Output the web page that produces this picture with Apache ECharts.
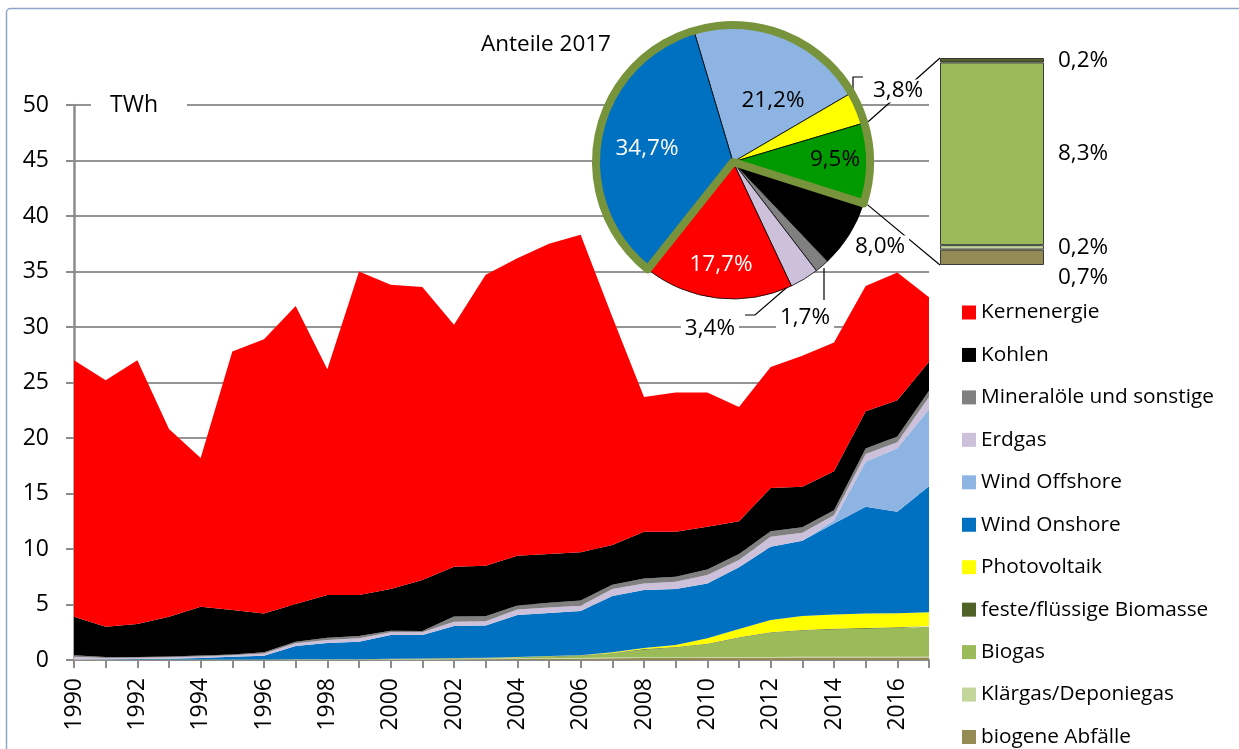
<!DOCTYPE html>
<html>
<head>
<meta charset="utf-8">
<script src="https://cdn.jsdelivr.net/npm/echarts@6/dist/echarts.min.js"></script>
<style>
  html, body { margin: 0; padding: 0; background: #fff; }
  #chart { width: 1239px; height: 749px; }
</style>
</head>
<body>
<div id="chart"></div>
<script>
const years = ['1990', '1991', '1992', '1993', '1994', '1995', '1996', '1997', '1998', '1999',
  '2000', '2001', '2002', '2003', '2004', '2005', '2006', '2007', '2008', '2009',
  '2010', '2011', '2012', '2013', '2014', '2015', '2016', '2017'];

// TWh per year, stacked bottom to top
const abfaelle = [0, 0, 0, 0, 0, 0, 0, 0, 0, 0, 0.02, 0.03, 0.05, 0.06, 0.08, 0.10, 0.12, 0.15, 0.17, 0.18, 0.20, 0.20, 0.21, 0.22, 0.22, 0.23, 0.23, 0.23];
const klaergas = [0.04, 0.04, 0.04, 0.05, 0.05, 0.05, 0.05, 0.06, 0.06, 0.06, 0.06, 0.07, 0.07, 0.07, 0.07, 0.07, 0.07, 0.07, 0.07, 0.07, 0.07, 0.07, 0.07, 0.07, 0.07, 0.07, 0.07, 0.065];
const biogas = [0, 0, 0, 0, 0, 0, 0, 0, 0, 0.01, 0.02, 0.02, 0.03, 0.05, 0.07, 0.13, 0.17, 0.38, 0.69, 0.87, 1.15, 1.73, 2.17, 2.36, 2.46, 2.52, 2.58, 2.71];
const festeBiomasse = [0, 0, 0, 0, 0, 0, 0, 0, 0, 0, 0.01, 0.01, 0.02, 0.02, 0.03, 0.03, 0.04, 0.04, 0.05, 0.05, 0.05, 0.05, 0.06, 0.06, 0.06, 0.06, 0.065, 0.065];
const photovoltaik = [0, 0, 0, 0, 0, 0, 0, 0, 0, 0, 0, 0, 0, 0, 0.01, 0.02, 0.03, 0.06, 0.10, 0.18, 0.48, 0.75, 1.09, 1.25, 1.30, 1.32, 1.27, 1.24];
const windOnshore = [0.01, 0.02, 0.04, 0.07, 0.13, 0.25, 0.33, 1.20, 1.47, 1.58, 2.14, 2.12, 2.89, 2.90, 3.79, 3.88, 3.98, 5.07, 5.22, 5.05, 4.95, 5.55, 6.60, 6.79, 8.19, 9.60, 9.15, 11.35];
const windOffshore = [0, 0, 0, 0, 0, 0, 0, 0, 0, 0, 0, 0, 0, 0, 0, 0, 0, 0, 0, 0, 0, 0, 0, 0, 0.30, 4.06, 5.71, 6.93];
const erdgas = [0.24, 0.13, 0.12, 0.12, 0.14, 0.12, 0.20, 0.24, 0.27, 0.30, 0.25, 0.24, 0.39, 0.40, 0.51, 0.51, 0.48, 0.63, 0.60, 0.66, 0.75, 0.66, 0.90, 0.72, 0.45, 0.69, 0.54, 1.11];
const mineraloele = [0.13, 0.08, 0.08, 0.07, 0.08, 0.08, 0.12, 0.15, 0.20, 0.21, 0.14, 0.12, 0.48, 0.45, 0.36, 0.42, 0.48, 0.39, 0.45, 0.45, 0.51, 0.54, 0.51, 0.48, 0.45, 0.51, 0.51, 0.56];
const kohlen = [3.48, 2.73, 2.97, 3.59, 4.40, 4.00, 3.50, 3.40, 3.85, 3.69, 3.76, 4.59, 4.47, 4.55, 4.48, 4.39, 4.33, 3.57, 4.20, 4.04, 3.84, 2.95, 3.89, 3.65, 3.50, 3.34, 3.28, 2.62];
const kernenergie = [23.1, 22.2, 23.75, 16.9, 13.4, 23.3, 24.7, 26.85, 20.35, 29.15, 27.4, 26.4, 21.8, 26.2, 26.8, 27.95, 28.6, 20.54, 12.15, 12.55, 12.1, 10.3, 10.9, 11.8, 11.6, 11.3, 11.5, 5.79];

// shares 2017 in %, clockwise from the start of the pie
const pieNames = ['Wind Offshore', 'Photovoltaik', 'Biomasse', 'Kohlen', 'Mineralöle und sonstige', 'Erdgas', 'Kernenergie', 'Wind Onshore'];
const pieShares = [21.2, 3.8, 9.5, 8.0, 1.7, 3.4, 17.7, 34.7];

// breakdown of the Biomasse slice, bottom to top
const barNames = ['biogene Abfälle', 'Klärgas/Deponiegas', 'Biogas', 'feste/flüssige Biomasse'];
const barShares = [0.7, 0.2, 8.3, 0.2];

const FONT = '"Open Sans", sans-serif';
const AXIS_GRAY = '#8C8C8C';

const COLORS = {
  'Kernenergie': '#FF0000',
  'Kohlen': '#000000',
  'Mineralöle und sonstige': '#808080',
  'Erdgas': '#CCC0DA',
  'Wind Offshore': '#8DB4E2',
  'Wind Onshore': '#0070C0',
  'Photovoltaik': '#FFFF00',
  'feste/flüssige Biomasse': '#4F6228',
  'Biogas': '#9BBB59',
  'Klärgas/Deponiegas': '#C3D69B',
  'biogene Abfälle': '#948A54',
  'Biomasse': '#009A00'
};

// stacking order, bottom first
const areaList = [
  ['biogene Abfälle', abfaelle],
  ['Klärgas/Deponiegas', klaergas],
  ['Biogas', biogas],
  ['feste/flüssige Biomasse', festeBiomasse],
  ['Photovoltaik', photovoltaik],
  ['Wind Onshore', windOnshore],
  ['Wind Offshore', windOffshore],
  ['Erdgas', erdgas],
  ['Mineralöle und sonstige', mineraloele],
  ['Kohlen', kohlen],
  ['Kernenergie', kernenergie]
];
const legendNames = areaList.map(a => a[0]).reverse();

// pie geometry
const PIE_CX = 733, PIE_CY = 162, PIE_R = 137;
const PIE_START = 106.6;
const OUTLINE_W = 8;

// where Excel put the pie labels, relative to the pie centre
const pieLabelSpots = {
  'Wind Onshore': { x: -86, y: -13, align: 'center' },
  'Wind Offshore': { x: 40, y: -61, align: 'center' },
  'Biomasse': { x: 102, y: -2, align: 'center' },
  'Kernenergie': { x: -12, y: 103, align: 'center' },
  'Photovoltaik': { x: 136, y: -71, align: 'left', line: [[120, -65], [120, -85], [130, -85]] },
  'Kohlen': { x: 118, y: 85, align: 'left' },
  'Mineralöle und sonstige': { x: 72, y: 156, align: 'center', line: [[91, 106], [91, 122], [91, 138]] },
  'Erdgas': { x: 6, y: 167, align: 'right', line: [[59, 121], [22, 153], [12, 153]] }
};
const insideLabels = { 'Wind Onshore': '#fff', 'Kernenergie': '#fff', 'Wind Offshore': '#000', 'Biomasse': '#000' };

// bar of the pie-of-bar
const BAR = { left: 940, top: 58, width: 104, height: 207 };

const fmtPct = v => v.toFixed(1).replace('.', ',') + '%';

const chart = echarts.init(document.getElementById('chart'), null, { renderer: 'canvas' });

const areaSeries = areaList.map(([name, data]) => ({
  name,
  type: 'line',
  stack: 'total',
  data,
  symbol: 'none',
  showSymbol: false,
  lineStyle: { width: 0 },
  itemStyle: { color: COLORS[name] },
  areaStyle: { color: COLORS[name], opacity: 1 },
  z: 2
}));

const pieData = pieNames.map((name, i) => {
  const inside = insideLabels[name];
  const item = {
    name,
    value: pieShares[i],
    itemStyle: { color: COLORS[name] }
  };
  if (inside) {
    item.label = { position: 'inside', color: inside };
  } else {
    item.label = { position: 'outside', backgroundColor: '#fff', padding: [0, 4] };
    if (!pieLabelSpots[name].line) item.labelLine = { show: false };
  }
  return item;
});

// olive outline round Wind Onshore + Wind Offshore + Photovoltaik + Biomasse
const outlined = ['Wind Onshore', 'Wind Offshore', 'Photovoltaik', 'Biomasse'];
const groupShare = pieNames.reduce((s, n, i) => s + (outlined.includes(n) ? pieShares[i] : 0), 0);
const totalShare = pieShares.reduce((s, v) => s + v, 0);
const onshoreShare = pieShares[pieNames.indexOf('Wind Onshore')];

const pieSeries = {
  name: 'Anteile 2017',
  type: 'pie',
  center: [PIE_CX, PIE_CY],
  radius: PIE_R,
  startAngle: PIE_START,
  clockwise: true,
  avoidLabelOverlap: false,
  z: 4,
  emphasis: { scale: false },
  itemStyle: { borderColor: '#000', borderWidth: 0.8 },
  label: {
    show: true,
    fontFamily: FONT,
    fontSize: 22.5,
    color: '#000',
    formatter: p => fmtPct(p.value)
  },
  labelLine: { show: true, lineStyle: { color: '#000', width: 1.2 } },
  labelLayout: function (p) {
    const spot = pieLabelSpots[pieNames[p.dataIndex]];
    const out = {
      x: PIE_CX + spot.x,
      y: PIE_CY + spot.y,
      align: spot.align,
      verticalAlign: 'middle'
    };
    if (spot.line) out.labelLinePoints = spot.line.map(q => [PIE_CX + q[0], PIE_CY + q[1]]);
    return out;
  },
  data: pieData
};

const outlineSeries = {
  type: 'pie',
  center: [PIE_CX, PIE_CY],
  radius: PIE_R,
  startAngle: PIE_START + onshoreShare * 3.6,
  clockwise: true,
  silent: true,
  z: 5,
  label: { show: false },
  labelLine: { show: false },
  emphasis: { scale: false },
  data: [
    { value: groupShare, itemStyle: { color: 'rgba(0,0,0,0)', borderColor: '#77933C', borderWidth: OUTLINE_W } },
    { value: totalShare - groupShare, itemStyle: { color: 'rgba(0,0,0,0)', borderWidth: 0 } }
  ]
};

const barTotal = barShares.reduce((s, v) => s + v, 0);
const barSeries = barNames.map((name, i) => ({
  name,
  type: 'bar',
  xAxisIndex: 1,
  yAxisIndex: 1,
  stack: 'bio',
  barWidth: '100%',
  data: [barShares[i]],
  z: 4,
  itemStyle: { color: COLORS[name], borderColor: '#3A3A3A', borderWidth: 1 },
  label: {
    show: true,
    position: 'right',
    distance: 14,
    offset: name === 'biogene Abfälle' ? [0, 20] : [0, 0],
    fontFamily: FONT,
    fontSize: 22.5,
    color: '#000',
    formatter: p => fmtPct(p.value)
  }
}));

// connector lines from the Biomasse slice to the bar
const bioIdx = pieNames.indexOf('Biomasse');
const before = pieShares.slice(0, bioIdx).reduce((s, v) => s + v, 0);
const a1 = (PIE_START - before * 3.6) * Math.PI / 180;
const a2 = (PIE_START - (before + pieShares[bioIdx]) * 3.6) * Math.PI / 180;
const rEdge = PIE_R + OUTLINE_W / 2;
const p1 = [PIE_CX + rEdge * Math.cos(a1), PIE_CY - rEdge * Math.sin(a1)];
const p2 = [PIE_CX + rEdge * Math.cos(a2), PIE_CY - rEdge * Math.sin(a2)];

const option = {
  animation: false,
  backgroundColor: '#fff',
  textStyle: { fontFamily: FONT },
  title: {
    text: 'Anteile 2017',
    left: 481,
    top: 33,
    padding: 0,
    textStyle: { fontFamily: FONT, fontSize: 22.5, fontWeight: 'normal', color: '#000' }
  },
  legend: {
    data: legendNames,
    orient: 'vertical',
    left: 962,
    top: 302,
    icon: 'rect',
    itemWidth: 14,
    itemHeight: 14,
    itemGap: 21.45,
    padding: 0,
    textStyle: { fontFamily: FONT, fontSize: 20.8, color: '#000' }
  },
  grid: [
    { left: 74, right: 310, top: 105, bottom: 89 },
    { left: BAR.left, top: BAR.top, width: BAR.width, height: BAR.height }
  ],
  xAxis: [
    {
      type: 'category',
      data: years,
      boundaryGap: false,
      axisLine: { lineStyle: { color: AXIS_GRAY, width: 2 } },
      axisTick: { show: true, interval: 0, length: 8, lineStyle: { color: AXIS_GRAY, width: 2 } },
      axisLabel: { interval: 1, rotate: 90, margin: 18, fontFamily: FONT, fontSize: 23, color: '#000' },
      splitLine: { show: false }
    },
    { gridIndex: 1, type: 'category', data: ['Biomasse'], show: false }
  ],
  yAxis: [
    {
      type: 'value',
      min: 0,
      max: 50,
      interval: 5,
      name: '{g| }{t|TWh}',
      nameLocation: 'end',
      nameGap: 0,
      nameTextStyle: {
        align: 'left',
        verticalAlign: 'middle',
        rich: {
          g: { width: 17 },
          t: { backgroundColor: '#fff', padding: [4, 29, 4, 19], fontFamily: FONT, fontSize: 23, color: '#000' }
        }
      },
      axisLine: { show: true, lineStyle: { color: AXIS_GRAY, width: 2.5 } },
      axisTick: { show: true, length: 8, lineStyle: { color: AXIS_GRAY, width: 2 } },
      axisLabel: { margin: 25, fontFamily: FONT, fontSize: 23, color: '#000' },
      splitLine: { show: true, lineStyle: { color: '#949494', width: 2 } }
    },
    { gridIndex: 1, type: 'value', min: 0, max: barTotal, show: false }
  ],
  graphic: [
    {
      type: 'rect',
      z: 0,
      silent: true,
      shape: { x: 6.5, y: 8.5, width: 1300, height: 800, r: 4 },
      style: { fill: 'none', stroke: '#8DA6C7', lineWidth: 1.5 }
    },
    {
      type: 'line',
      z: 3,
      silent: true,
      shape: { x1: p1[0], y1: p1[1], x2: BAR.left, y2: BAR.top },
      style: { stroke: '#000', lineWidth: 1.2 }
    },
    {
      type: 'line',
      z: 3,
      silent: true,
      shape: { x1: p2[0], y1: p2[1], x2: BAR.left, y2: BAR.top + BAR.height },
      style: { stroke: '#000', lineWidth: 1.2 }
    }
  ],
  series: [...areaSeries, pieSeries, outlineSeries, ...barSeries]
};

chart.setOption(option);
</script>
</body>
</html>
